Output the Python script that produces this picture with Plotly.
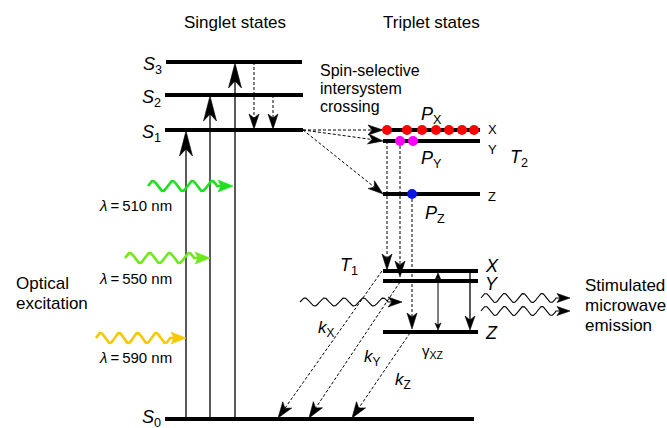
import numpy as np
import plotly.graph_objects as go

W, H = 667, 428
FONT = "Liberation Sans, Arial, sans-serif"

# ---------------- data (diagram coordinates, pixel space) ----------------
singlet_index = ["0", "1", "2", "3"]
singlet_energy = [419, 130, 95, 62]
singlet_start = [165, 165, 165, 166]
singlet_end = [474, 303, 303, 302]

t2_labels = ["X", "Y", "Z"]
t2_energy = [130, 141, 194]
t2_span = [383, 480]

t1_labels = ["X", "Y", "Z"]
t1_energy = [271, 281, 332]
t1_span = [383, 478]

px_dots = [387, 407, 422, 436, 449, 462, 474]
py_dots = [400, 413]
pz_dots = [412]

excite_wavelength = ["510", "550", "590"]
excite_colors = ["#1fe01f", "#6fe81c", "#f7c800"]
excite_y = [186, 258, 338]
excite_x0 = [148, 125, 96]
excite_tip = [233, 210, 186]
excite_label_y = [205, 278, 357]

pump_x = [186, 210, 235]            # upward excitation arrows S0 -> S1/S2/S3
pump_target = [131, 96, 63]

decay_x = [278, 309, 352]            # decay to S0
decay_from = [(382, 271), (400, 282), (410, 333)]

fig = go.Figure()


def line(xs, ys, width=1.0, color="black", dash=None):
    fig.add_trace(go.Scatter(x=list(xs), y=list(ys), mode="lines",
                             line=dict(width=width, color=color, dash=dash),
                             hoverinfo="skip", showlegend=False))


def head(x0, y0, x1, y1, L=14, hw=5, notch=4, color="black"):
    dx, dy = x1 - x0, y1 - y0
    n = (dx * dx + dy * dy) ** 0.5
    ux, uy = dx / n, dy / n
    px, py = -uy, ux
    bx, by = x1 - ux * L, y1 - uy * L
    nx, ny = x1 - ux * (L - notch), y1 - uy * (L - notch)
    xs = [x1, bx + px * hw, nx, bx - px * hw, x1]
    ys = [y1, by + py * hw, ny, by - py * hw, y1]
    fig.add_trace(go.Scatter(x=xs, y=ys, mode="lines", fill="toself",
                             fillcolor=color, line=dict(width=0.6, color=color),
                             hoverinfo="skip", showlegend=False))


def arrow(x0, y0, x1, y1, width=1.0, dash=None, L=14, hw=5, notch=4, color="black"):
    dx, dy = x1 - x0, y1 - y0
    n = (dx * dx + dy * dy) ** 0.5
    ux, uy = dx / n, dy / n
    ex, ey = x1 - ux * (L - notch), y1 - uy * (L - notch)
    line([x0, ex], [y0, ey], width=width, color=color, dash=dash)
    head(x0, y0, x1, y1, L=L, hw=hw, notch=notch, color=color)


def wave_arrow(x0, y, tip, amp, period, color, width, L=14, hw=5, notch=4):
    wend = tip - L + notch
    half = period / 2.0
    nhalf = max(2, int(round((wend - 4 - x0) / half)))
    per = 2.0 * (wend - 4 - x0) / nhalf
    xs = np.linspace(x0, wend - 4, 200)
    ys = y - amp * np.sin(2 * np.pi * (xs - x0) / per)
    xs = list(xs) + [wend]
    ys = list(ys) + [y]
    line(xs, ys, width=width, color=color)
    head(x0, y, tip, y, L=L, hw=hw, notch=notch, color=color)


def text(x, y, s, size=14, xanchor="center", yanchor="middle", align="center"):
    fig.add_annotation(x=x, y=y, xref="x", yref="y", text=s, showarrow=False,
                       xanchor=xanchor, yanchor=yanchor, align=align,
                       font=dict(family=FONT, size=size, color="black"))


def lines_text(x, ys, strings, size):
    for y, s in zip(ys, strings):
        text(x, y, s, size=size, xanchor="left")


# ---------------- levels ----------------
singlet_label_dy = [-1, 3, 3, 3]
for idx, e, a, b, dy in zip(singlet_index, singlet_energy, singlet_start, singlet_end, singlet_label_dy):
    line([a, b], [e, e], width=4)
    text(a - 2, e + dy, "<i>S</i><sub>" + idx + "</sub>", size=18, xanchor="right")

t2_label_y = [129, 149, 196]
for lab, e, ly in zip(t2_labels, t2_energy, t2_label_y):
    line(t2_span, [e, e], width=4)
    text(t2_span[1] + 6, ly, lab, size=13, xanchor="left")

t1_label_y = [266, 284, 333]
for lab, e, ly in zip(t1_labels, t1_energy, t1_label_y):
    line(t1_span, [e, e], width=4)
    text(t1_span[1] + 5, ly, "<i>" + lab + "</i>", size=18, xanchor="left")

# ---------------- singlet arrows ----------------
for x, t in zip(pump_x, pump_target):
    arrow(x, singlet_energy[0], x, t, width=1.3, L=25, hw=6.5, notch=7)

arrow(254, singlet_energy[3], 254, singlet_energy[1] - 1, width=1, dash="3px,2px", L=15, hw=5, notch=4)
arrow(273, singlet_energy[2], 273, singlet_energy[1] - 1, width=1, dash="3px,2px", L=15, hw=5, notch=4)

# ---------------- intersystem crossing ----------------
for e in t2_energy:
    arrow(singlet_end[1], singlet_energy[1], t2_span[0], e, width=1, dash="3px,2px", L=15, hw=5, notch=4)

# T2 -> T1 dotted arrows
arrow(387, t2_energy[1], 387, t1_energy[0] - 1, width=1, dash="3px,2px", L=16, hw=5, notch=4)
arrow(400, t2_energy[1], 400, 277, width=1, dash="3px,2px", L=16, hw=5, notch=4)
arrow(412, t2_energy[2], 412, t1_energy[2] - 3, width=1, dash="3px,2px", L=16, hw=5, notch=4)

# population dots
fig.add_trace(go.Scatter(x=px_dots, y=[t2_energy[0]] * len(px_dots), mode="markers",
                         marker=dict(size=10, color="#ff0000"), hoverinfo="skip", showlegend=False))
fig.add_trace(go.Scatter(x=py_dots, y=[t2_energy[1]] * len(py_dots), mode="markers",
                         marker=dict(size=10, color="#ff00ff"), hoverinfo="skip", showlegend=False))
fig.add_trace(go.Scatter(x=pz_dots, y=[t2_energy[2]] * len(pz_dots), mode="markers",
                         marker=dict(size=10, color="#0a14e6"), hoverinfo="skip", showlegend=False))

# ---------------- T1 internal arrows ----------------
line([438, 438], [t1_energy[0] + 6, t1_energy[2] - 5], width=1)
head(438, t1_energy[2], 438, t1_energy[0] + 2, L=7, hw=3, notch=2)
head(438, t1_energy[0], 438, t1_energy[2] - 2, L=7, hw=3, notch=2)
arrow(470, t1_energy[0], 470, t1_energy[2] - 2, width=1.3, L=14, hw=5, notch=4)

# decay arrows to S0
for (sx, sy), ex in zip(decay_from, decay_x):
    arrow(sx, sy, ex, singlet_energy[0] - 1, width=1, dash="3px,2px", L=16, hw=5.5, notch=4)

# ---------------- waves ----------------
for c, y, x0, tip in zip(excite_colors, excite_y, excite_x0, excite_tip):
    wave_arrow(x0, y, tip, amp=5, period=19, color=c, width=2.6, L=15, hw=6, notch=3)

wave_arrow(300, 302, 402, amp=4, period=20, color="black", width=1.1, L=14, hw=5, notch=4)
wave_arrow(481, 298, 570, amp=4.5, period=19, color="black", width=1.1, L=13, hw=4.5, notch=3)
wave_arrow(481, 311, 570, amp=4.5, period=19, color="black", width=1.1, L=13, hw=4.5, notch=3)

# ---------------- texts ----------------
text(235, 22, "Singlet states", size=17)
text(431, 22, "Triplet states", size=17)
lines_text(318, [70, 88, 106], ["Spin-selective", "intersystem", "crossing"], 16)
text(419, 115, "<i>P</i><sub>X</sub>", size=18, xanchor="left")
text(419, 159, "<i>P</i><sub>Y</sub>", size=18, xanchor="left")
text(423, 214, "<i>P</i><sub>Z</sub>", size=18, xanchor="left")
text(508, 158, "<i>T</i><sub>2</sub>", size=18, xanchor="left")
text(338, 266, "<i>T</i><sub>1</sub>", size=18, xanchor="left")
text(316, 329, "<i>k</i><sub>X</sub>", size=17, xanchor="left")
text(362, 358, "<i>k</i><sub>Y</sub>", size=17, xanchor="left")
text(393, 381, "<i>k</i><sub>Z</sub>", size=17, xanchor="left")
text(420, 351, "γ<sub>XZ</sub>", size=15, xanchor="left")
lines_text(583, [285, 305, 325], ["Stimulated", "microwave", "emission"], 17)
lines_text(14, [283, 303], ["Optical", "excitation"], 17)
for wl, ly in zip(excite_wavelength, excite_label_y):
    text(97, ly, "<i>λ</i>\u2009=\u2009" + wl + " nm", size=15, xanchor="left")

fig.update_layout(
    width=W, height=H, margin=dict(l=0, r=0, t=0, b=0),
    paper_bgcolor="white", plot_bgcolor="white",
    xaxis=dict(range=[0, W], visible=False, fixedrange=True),
    yaxis=dict(range=[H, 0], visible=False, fixedrange=True),
    showlegend=False,
)
fig.write_html("out.html", post_script="document.body.style.margin='0';document.body.style.overflow='hidden';",
               config={"displayModeBar": False})
